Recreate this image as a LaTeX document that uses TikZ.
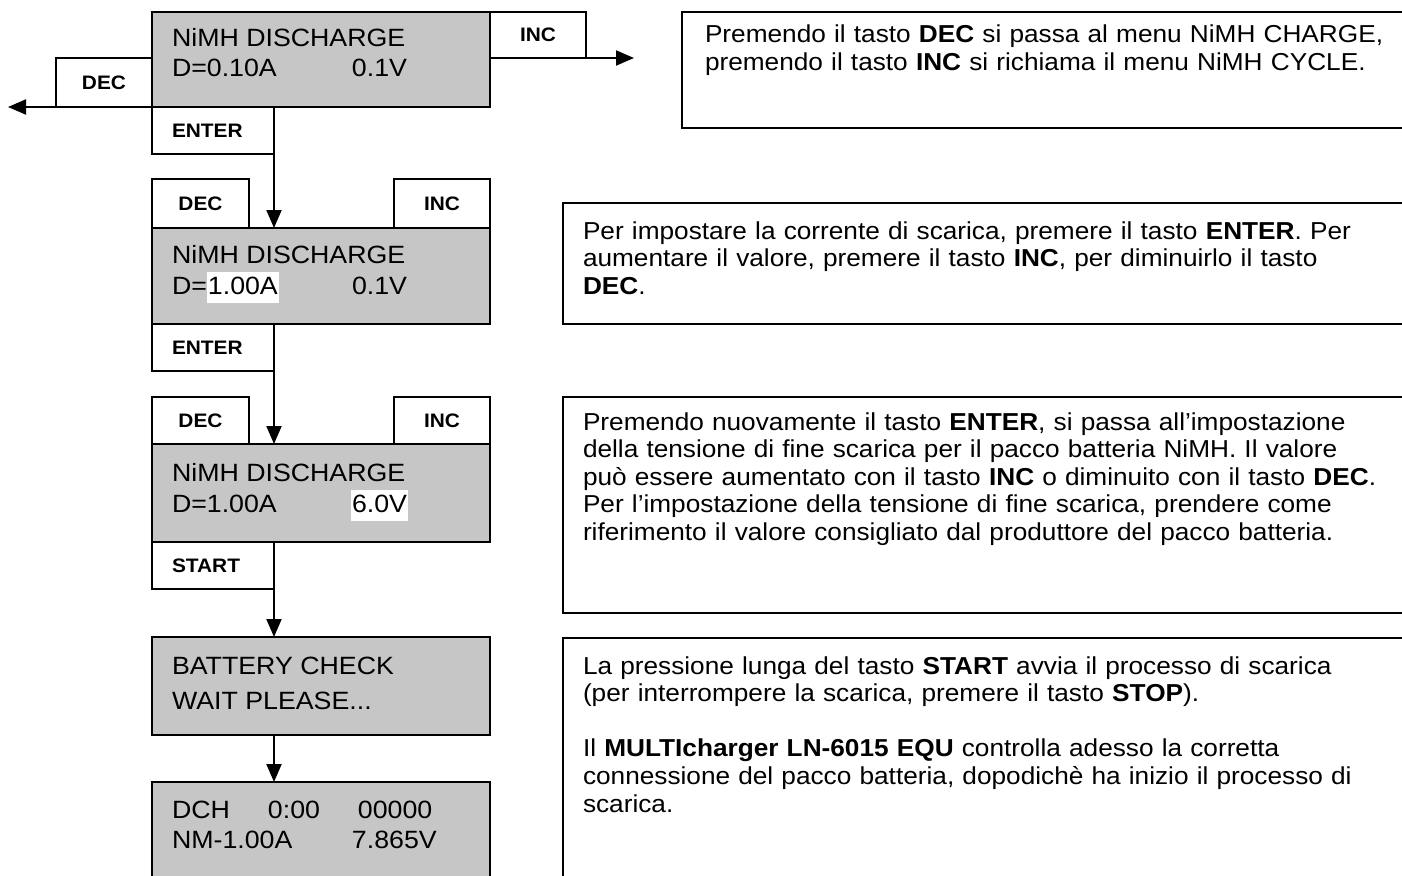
\documentclass[tikz,border=0pt]{standalone}
\usepackage{fontspec}
\setmainfont{Liberation Sans}[FakeStretch=1.07]
\usetikzlibrary{arrows.meta}
\definecolor{lcdgray}{RGB}{198,198,198}
\newcommand\hlw[1]{{\setlength{\fboxsep}{0pt}\colorbox{white}{\strut\kern1pt#1\kern1pt}}}
\begin{document}
\begin{tikzpicture}[x=1pt,y=-1pt,
  every node/.append style={outer sep=0pt},
  lcd/.style={draw=black, line width=2pt, fill=lcdgray, rectangle, inner sep=0pt, minimum width=338pt, anchor=north west},
  btn/.style={draw=black, line width=2pt, fill=white, rectangle, inner sep=0pt, font=\fontsize{19.5}{22}\selectfont\bfseries},
  btnl/.style={btn, text width=82pt, align=left, inner xsep=20pt, minimum width=122pt, minimum height=47pt, anchor=north west},
  lcdtxt/.style={font=\fontsize{25}{31}\selectfont, inner sep=0pt, anchor=base west},
  descbox/.style={draw=black, line width=2pt, rectangle, inner sep=0pt, minimum width=950pt, anchor=north west},
  desctxt/.style={font=\fontsize{24.5}{27.6}\selectfont, inner sep=0pt, anchor=base west, text width=820pt, align=left},
  arr/.style={draw=black, line width=2pt, -{Triangle[length=18pt,width=15pt]}}
]
\clip (0,0) rectangle (1402,875);
\fill[white] (0,0) rectangle (1402,875);

% LCD screens
\node[lcd, minimum height=95pt] (lcd1) at (152,12) {};
\node[lcd, minimum height=96pt] (lcd2) at (152,228) {};
\node[lcd, minimum height=98pt] (lcd3) at (152,444) {};
\node[lcd, minimum height=98pt] (lcd4) at (152,637) {};
\node[lcd, minimum height=130pt] (lcd5) at (152,782) {};

% LCD texts
\node[lcdtxt] (t1a) at ([shift={(20,35)}]lcd1.north west) {NiMH DISCHARGE};
\node[lcdtxt] (t1b) at ([shift={(20,65)}]lcd1.north west) {\makebox[180pt][l]{D=0.10A}0.1V};
\node[lcdtxt] (t2a) at ([shift={(20,35)}]lcd2.north west) {NiMH DISCHARGE};
\node[lcdtxt] (t2b) at ([shift={(20,66)}]lcd2.north west) {\makebox[180pt][l]{D=\hlw{1.00A}}0.1V};
\node[lcdtxt] (t3a) at ([shift={(20,37)}]lcd3.north west) {NiMH DISCHARGE};
\node[lcdtxt] (t3b) at ([shift={(20,68)}]lcd3.north west) {\makebox[179pt][l]{D=1.00A}\hlw{6.0V}};
\node[lcdtxt] (t4a) at ([shift={(20,37)}]lcd4.north west) {BATTERY CHECK};
\node[lcdtxt] (t4b) at ([shift={(20,72)}]lcd4.north west) {WAIT PLEASE...};
\node[lcdtxt] (t5a) at ([shift={(20,36)}]lcd5.north west) {\makebox[96pt][l]{DCH}\makebox[90pt][l]{0:00}00000};
\node[lcdtxt] (t5b) at ([shift={(20,66)}]lcd5.north west) {\makebox[180pt][l]{NM-1.00A}7.865V};

% buttons
\node[btn, minimum width=96pt, minimum height=49pt, anchor=south east] (dec1) at (lcd1.south west) {DEC};
\node[btn, minimum width=96pt, minimum height=46pt, anchor=north west] (inc1) at (lcd1.north east) {INC};
\node[btnl] (enter1) at (lcd1.south west) {ENTER};
\node[btn, minimum width=97pt, minimum height=49pt, anchor=south west] (dec2) at (lcd2.north west) {DEC};
\node[btn, minimum width=96pt, minimum height=49pt, anchor=south east] (inc2) at (lcd2.north east) {INC};
\node[btnl] (enter2) at (lcd2.south west) {ENTER};
\node[btn, minimum width=97pt, minimum height=47pt, anchor=south west] (dec3) at (lcd3.north west) {DEC};
\node[btn, minimum width=96pt, minimum height=47pt, anchor=south east] (inc3) at (lcd3.north east) {INC};
\node[btnl] (start) at (lcd3.south west) {START};

% connectors
\coordinate (leftend) at (8,107);
\coordinate (rightend) at (634,58);
\draw[arr] (dec1.south west) -- (leftend);
\draw[arr] (inc1.south east) -- (rightend);
\draw[arr] (enter1.south east) -- (enter1.south east |- lcd2.north);
\draw[arr] (enter2.south east) -- (enter2.south east |- lcd3.north);
\draw[arr] (start.south east) -- (start.south east |- lcd4.north);
\draw[arr] (start.south east |- lcd4.south) -- (start.south east |- lcd5.north);

% description boxes
\node[descbox, minimum height=116pt] (boxA) at (682,12) {};
\node[descbox, minimum height=121pt] (boxB) at (563,203) {};
\node[descbox, minimum height=216pt] (boxC) at (563,397) {};
\node[descbox, minimum height=300pt] (boxD) at (563,638) {};

\node[desctxt] (txtA) at ([shift={(23,31)}]boxA.north west) {Premendo il tasto \textbf{DEC} si passa al menu NiMH CHARGE,\\
premendo il tasto \textbf{INC} si richiama il menu NiMH CYCLE.};
\node[desctxt] (txtB) at ([shift={(20,36)}]boxB.north west) {Per impostare la corrente di scarica, premere il tasto \textbf{ENTER}. Per\\
aumentare il valore, premere il tasto \textbf{INC}, per diminuirlo il tasto\\
\textbf{DEC}.};
\node[desctxt] (txtC) at ([shift={(20,33)}]boxC.north west) {Premendo nuovamente il tasto \textbf{ENTER}, si passa all’impostazione\\
della tensione di fine scarica per il pacco batteria NiMH. Il valore\\
può essere aumentato con il tasto \textbf{INC} o diminuito con il tasto \textbf{DEC}.\\
Per l’impostazione della tensione di fine scarica, prendere come\\
riferimento il valore consigliato dal produttore del pacco batteria.};
\node[desctxt] (txtD) at ([shift={(20,36)}]boxD.north west) {La pressione lunga del tasto \textbf{START} avvia il processo di scarica\\
(per interrompere la scarica, premere il tasto \textbf{STOP}).\\[27.6pt]
Il \textbf{MULTIcharger LN-6015 EQU} controlla adesso la corretta\\
connessione del pacco batteria, dopodichè ha inizio il processo di\\
scarica.};
\end{tikzpicture}
\end{document}
